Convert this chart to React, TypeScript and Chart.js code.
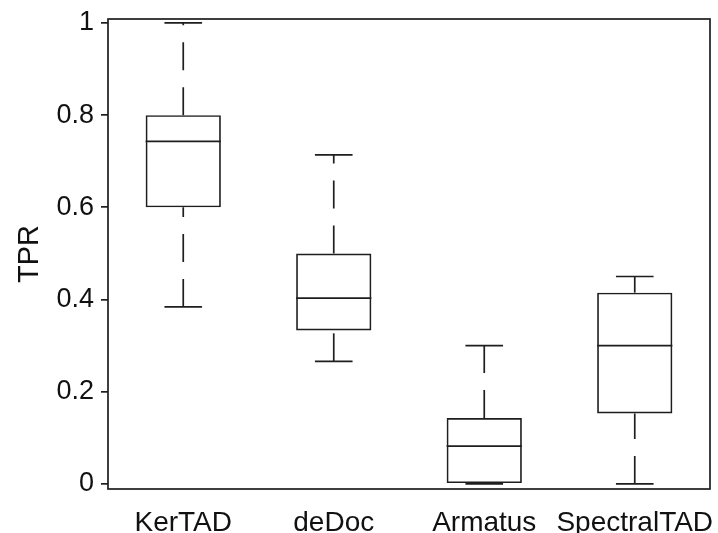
import React, { useEffect, useRef } from "react";
import { Chart, registerables } from "chart.js";

Chart.register(...registerables);

const categories = ["KerTAD", "deDoc", "Armatus", "SpectralTAD"];
const whiskerLow = [0.384, 0.266, 0.0, 0.0];
const q1 = [0.6, 0.333, 0.0, 0.153];
const median = [0.743, 0.403, 0.082, 0.3];
const q3 = [0.8, 0.5, 0.143, 0.415];
const whiskerHigh = [1.0, 0.714, 0.3, 0.45];
const yTickValues = [0, 0.2, 0.4, 0.6, 0.8, 1];
const yTickLabels = ["0", "0.2", "0.4", "0.6", "0.8", "1"];

const FONT = "'Liberation Sans', Arial, Helvetica, sans-serif";
const LINE = "#1e1e1e";

const boxPlugin = {
  id: "boxWhiskers",
  afterDatasetsDraw(chart: any) {
    const ctx = chart.ctx;
    const xs = chart.scales.x;
    const ys = chart.scales.y;
    const meta = chart.getDatasetMeta(0);
    ctx.save();
    ctx.strokeStyle = LINE;
    ctx.lineWidth = 1.7;
    categories.forEach((_, i) => {
      const x = xs.getPixelForValue(i);
      const bar = meta.data[i];
      const hw = bar.width / 2;
      const capHw = hw / 2;
      ctx.setLineDash([]);
      ctx.beginPath();
      ctx.moveTo(x - hw, ys.getPixelForValue(median[i]));
      ctx.lineTo(x + hw, ys.getPixelForValue(median[i]));
      ctx.stroke();
      [whiskerLow[i], whiskerHigh[i]].forEach((v) => {
        const y = ys.getPixelForValue(v);
        ctx.beginPath();
        ctx.moveTo(x - capHw, y);
        ctx.lineTo(x + capHw, y);
        ctx.stroke();
      });
      ctx.setLineDash([28, 17]);
      ctx.beginPath();
      ctx.moveTo(x, ys.getPixelForValue(whiskerLow[i]));
      ctx.lineTo(x, ys.getPixelForValue(q1[i]));
      ctx.stroke();
      ctx.beginPath();
      ctx.moveTo(x, ys.getPixelForValue(q3[i]));
      ctx.lineTo(x, ys.getPixelForValue(whiskerHigh[i]));
      ctx.stroke();
    });
    ctx.setLineDash([]);
    const a = chart.chartArea;
    ctx.lineWidth = 1.7;
    ctx.strokeRect(a.left, a.top, a.right - a.left, a.bottom - a.top);
    ctx.restore();
  },
};

export default function App() {
  const ref = useRef<HTMLCanvasElement | null>(null);
  useEffect(() => {
    if (!ref.current) return;
    const chart = new Chart(ref.current, {
      type: "bar",
      data: {
        labels: categories,
        datasets: [
          {
            data: q1.map((v, i) => [v, q3[i]]) as any,
            backgroundColor: "rgba(255,255,255,0)",
            borderColor: LINE,
            borderWidth: 1.7,
            borderSkipped: false,
            categoryPercentage: 1,
            barPercentage: 0.5,
          },
        ],
      },
      options: {
        responsive: false,
        animation: false,
        layout: { padding: { top: 19, right: 8, left: 0, bottom: 0 } },
        plugins: { legend: { display: false }, tooltip: { enabled: false } },
        scales: {
          x: {
            grid: { display: false },
            border: { display: false },
            ticks: {
              color: "#111",
              font: { family: FONT, size: 28 },
              padding: 9,
              maxRotation: 0,
              minRotation: 0,
              autoSkip: false,
            },
            afterFit: (s: any) => {
              s.height = 44;
              s.paddingLeft = 0;
              s.paddingRight = 0;
            },
          },
          y: {
            min: -0.0109,
            max: 1.0085,
            grid: {
              display: true,
              drawOnChartArea: false,
              drawTicks: true,
              tickLength: 7,
              color: LINE,
              lineWidth: 1.7,
            },
            border: { display: false },
            afterBuildTicks: (s: any) => {
              s.ticks = yTickValues.map((v) => ({ value: v }));
            },
            ticks: {
              color: "#111",
              font: { family: FONT, size: 27 },
              padding: 7,
              callback: (v: any) => {
                const idx = yTickValues.findIndex((t) => Math.abs(t - Number(v)) < 1e-9);
                return idx >= 0 ? yTickLabels[idx] : "";
              },
            },
            title: {
              display: true,
              text: "TPR",
              color: "#111",
              font: { family: FONT, size: 29 },
              padding: { top: 13, bottom: 0 },
            },
            afterFit: (s: any) => {
              s.width = 108;
              s.paddingTop = 0;
              s.paddingBottom = 0;
            },
          },
        },
      },
      plugins: [boxPlugin],
    });
    return () => chart.destroy();
  }, []);
  return (
    <canvas
      ref={ref}
      width={718}
      height={533}
      style={{ position: "absolute", left: 0, top: 0, width: 718, height: 533 }}
    />
  );
}
